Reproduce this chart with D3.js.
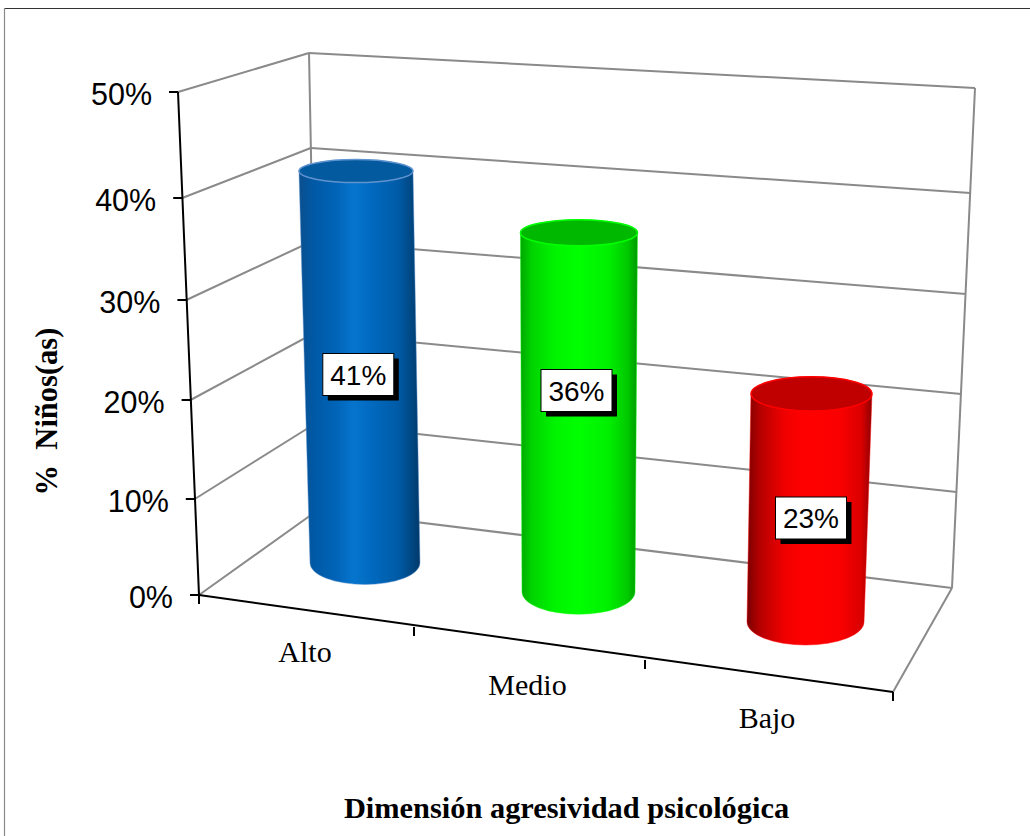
<!DOCTYPE html>
<html>
<head>
<meta charset="utf-8">
<style>html,body{margin:0;padding:0;background:#fff;overflow:hidden}svg{display:block}</style>
<script src="https://cdn.jsdelivr.net/npm/d3@7/dist/d3.min.js"></script>
</head>
<body>
<div id="chart"></div>
<script>
// ---- data ----
const categories = ["Alto", "Medio", "Bajo"];
const values = [41, 36, 23];
const tickValues = [0, 10, 20, 30, 40, 50];
const axisTitle = "Dimensión agresividad psicológica";
const valueTitle = "%  Niños(as)";

// ---- styling ----
const bodyStops = [
  [[0,"#0b4f8e"],[0.12,"#0059a5"],[0.3,"#0063b6"],[0.45,"#0675ce"],[0.62,"#0068bd"],[0.82,"#005ba6"],[1,"#003a6b"]],
  [[0,"#00a800"],[0.1,"#00d400"],[0.3,"#00f400"],[0.5,"#00ff00"],[0.75,"#00f000"],[0.92,"#00c800"],[1,"#009800"]],
  [[0,"#7a0000"],[0.1,"#b40000"],[0.3,"#f00000"],[0.45,"#ff0000"],[0.75,"#fa0000"],[0.92,"#d80000"],[1,"#8c0000"]]
];
const topFill = ["#045a9e", "#00b800", "#c00000"];
const rimColor = ["#5f93cf", "#00ff00", "#ff0000"];
const gridColor = "#8a8a8a";

const W = 1030, H = 836;
const svg = d3.select("#chart").append("svg").attr("width", W).attr("height", H);

// ---- perspective frame: one scale per vertical edge of the 3-D box ----
const edgeScale = r => d3.scaleLinear().domain(tickValues).range(r);
const frontLeftY = edgeScale([595, 499, 400, 300, 198, 92]);
const frontLeftX = d3.scaleLinear().domain([0, 50]).range([199, 178]);
const backLeftY  = edgeScale([510, 423, 333, 241, 148, 53]);
const backLeftX  = d3.scaleLinear().domain([0, 50]).range([318, 309]);
const backRightY = edgeScale([588, 492, 394, 294, 193, 88]);
const backRightX = d3.scaleLinear().domain([0, 50]).range([952, 975]);

// front floor edge, category boundaries
const frontEdgeX = d3.scaleLinear().domain([0, 1, 2, 3]).range([199, 414, 645, 893]);
const frontEdgeY = d3.scaleLinear().domain([0, 1, 2, 3]).range([595, 627, 660, 692]);

// ---- bars ----
const baseX = d3.scaleOrdinal(categories, [365, 578.5, 805.5]);
const baseY = d3.scaleOrdinal(categories, [563, 592, 622]);
const unitHeight = d3.scaleOrdinal(categories, [9.56, 9.98, 9.92]);
const lean = d3.scaleLinear().domain([365, 805.5]).range([-0.22, 0.26]);
const rxBase = d3.scaleOrdinal(categories, [55, 56.5, 58.5]);
const ryAt = d3.scaleLinear().domain([171, 622]).range([11.5, 23]);
const labelX = d3.scaleOrdinal(categories, [358.3, 576.5, 811]);
const labelY = d3.scaleOrdinal(categories, [374.5, 390.5, 518]);

const defs = svg.append("defs");
bodyStops.forEach((stops, i) => {
  const g = defs.append("linearGradient").attr("id", "body" + i)
    .attr("x1", 0).attr("x2", 1).attr("y1", 0).attr("y2", 0);
  stops.forEach(s => g.append("stop").attr("offset", s[0]).attr("stop-color", s[1]));
});

// frame of the picture
svg.append("line").attr("x1", 4).attr("x2", W).attr("y1", 8.5).attr("y2", 8.5)
  .attr("stroke", "#333").attr("stroke-width", 1.2);
svg.append("line").attr("x1", 4.5).attr("x2", 4.5).attr("y1", 8).attr("y2", H)
  .attr("stroke", "#8a8a8a").attr("stroke-width", 1.2);

// ---- walls and gridlines ----
const grid = svg.append("g").attr("fill", "none").attr("stroke", gridColor).attr("stroke-width", 2);
const seg = (g, a, b) => g.append("line").attr("x1", a[0]).attr("y1", a[1]).attr("x2", b[0]).attr("y2", b[1]);
tickValues.forEach(v => {
  const fl = [frontLeftX(v), frontLeftY(v)], bl = [backLeftX(v), backLeftY(v)], br = [backRightX(v), backRightY(v)];
  seg(grid, fl, bl);
  seg(grid, bl, br);
});
seg(grid, [backLeftX(0), backLeftY(0)], [backLeftX(50), backLeftY(50)]);
seg(grid, [backRightX(0), backRightY(0)], [backRightX(50), backRightY(50)]);
seg(grid, [backRightX(0), backRightY(0)], [frontEdgeX(3), frontEdgeY(3)]);

// ---- cylinders ----
const bars = svg.append("g");
categories.forEach((c, i) => {
  const v = values[i];
  const bx = baseX(c), by = baseY(c);
  const tx = bx + lean(bx) * v, ty = by - unitHeight(c) * v;
  const rb = rxBase(c), rt = rb + 2;
  const ryB = ryAt(by), ryT = ryAt(ty);
  const d = `M${tx - rt},${ty} L${bx - rb},${by} A${rb},${ryB} 0 0 0 ${bx + rb},${by} L${tx + rt},${ty} A${rt},${ryT} 0 0 0 ${tx - rt},${ty} Z`;
  bars.append("path").attr("d", d).attr("fill", `url(#body${i})`)
    .attr("stroke", rimColor[i]).attr("stroke-opacity", 0.45).attr("stroke-width", 1);
  bars.append("ellipse").attr("cx", tx).attr("cy", ty).attr("rx", rt).attr("ry", ryT)
    .attr("fill", topFill[i]).attr("stroke", rimColor[i]).attr("stroke-width", 1.5);
});

// ---- axes ----
const axis = svg.append("g").attr("stroke", "#000").attr("stroke-width", 2);
seg(axis, [frontLeftX(0), frontLeftY(0)], [frontLeftX(50), frontLeftY(50)]);
seg(axis, [frontEdgeX(0), frontEdgeY(0)], [frontEdgeX(3), frontEdgeY(3)]);
tickValues.forEach(v => {
  const x = frontLeftX(v), y = frontLeftY(v);
  seg(axis, [x - 9, y], [x, y]);
  svg.append("text").attr("x", x - 26).attr("y", y + 13)
    .attr("text-anchor", "end").attr("font-family", "'Liberation Sans'").attr("font-size", 30.5)
    .attr("fill", "#000").text(d3.format("d")(v) + "%");
});
d3.range(categories.length + 1).forEach(i => {
  const x = frontEdgeX(i), y = frontEdgeY(i);
  seg(axis, [x, y], [x, y + 9]);
});

// category labels
const catX = d3.scaleOrdinal(categories, [305, 527.5, 767]);
const catY = d3.scaleOrdinal(categories, [662, 695, 728]);
svg.selectAll("text.cat").data(categories).enter().append("text").attr("class", "cat")
  .attr("x", d => catX(d)).attr("y", d => catY(d))
  .attr("text-anchor", "middle").attr("font-family", "'Liberation Serif'").attr("font-size", 30)
  .attr("fill", "#000").text(d => d);

// data labels
categories.forEach((c, i) => {
  const cx = labelX(c), cy = labelY(c), w = 71, h = 42;
  const g = svg.append("g");
  g.append("rect").attr("x", cx - w / 2 + 5).attr("y", cy - h / 2 + 5).attr("width", w).attr("height", h).attr("fill", "#000");
  g.append("rect").attr("x", cx - w / 2).attr("y", cy - h / 2).attr("width", w).attr("height", h)
    .attr("fill", "#fff").attr("stroke", "#000").attr("stroke-width", 1);
  g.append("text").attr("x", cx).attr("y", cy + 10).attr("text-anchor", "middle")
    .attr("font-family", "'Liberation Sans'").attr("font-size", 28).attr("fill", "#000")
    .text(values[i] + "%");
});

// axis titles
svg.append("text").attr("x", 566.5).attr("y", 818).attr("text-anchor", "middle")
  .attr("font-family", "'Liberation Serif'").attr("font-weight", "bold").attr("font-size", 30.4)
  .attr("fill", "#000").text(axisTitle);
svg.append("text").attr("transform", "translate(57,411.5) rotate(-90)").attr("text-anchor", "middle")
  .attr("font-family", "'Liberation Serif'").attr("font-weight", "bold").attr("font-size", 30.5)
  .style("white-space", "pre").attr("fill", "#000").text(valueTitle);
</script>
</body>
</html>
